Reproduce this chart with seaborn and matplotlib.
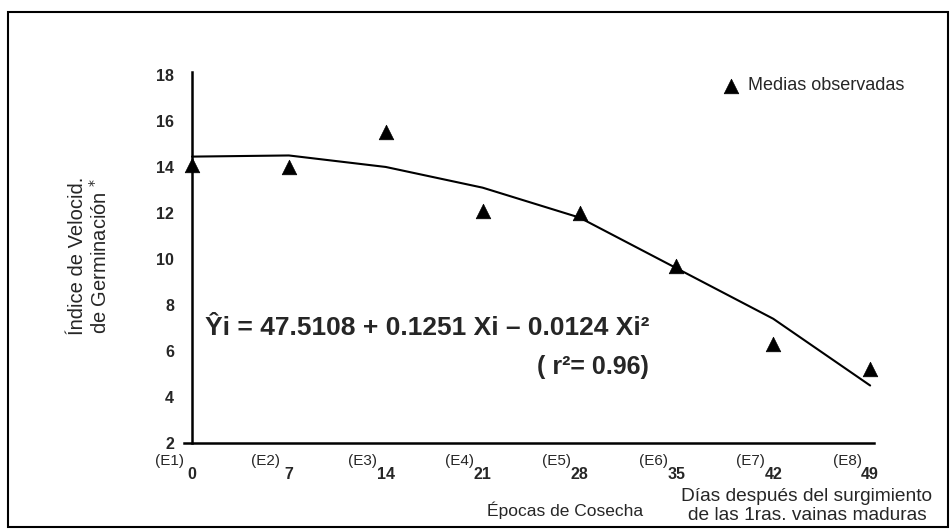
import matplotlib
matplotlib.use("Agg")
import matplotlib.pyplot as plt
from matplotlib.patches import Rectangle
import seaborn as sns
import pandas as pd

# observed means per harvest epoch
dias = [0, 7, 14, 21, 28, 35, 42, 49]
epocas = ["(E1)", "(E2)", "(E3)", "(E4)", "(E5)", "(E6)", "(E7)", "(E8)"]
medias_obs = [14.1, 14.0, 15.5, 12.1, 12.0, 9.7, 6.3, 5.2]
# fitted curve as drawn
ajuste = [14.45, 14.5, 14.0, 13.1, 11.8, 9.6, 7.4, 4.5]
yticks = [2, 4, 6, 8, 10, 12, 14, 16, 18]

df = pd.DataFrame({"dias": dias, "obs": medias_obs, "fit": ajuste})

sns.set_style("white")
plt.rcParams["font.family"] = ["Liberation Sans", "DejaVu Sans"]

W, H = 952, 529
fig = plt.figure(figsize=(W / 100, H / 100), dpi=100)
ax = fig.add_axes([183.7 / W, 86 / H, 690.6 / W, 371.5 / H])

sns.lineplot(data=df, x="dias", y="fit", ax=ax, color="black", linewidth=1.5)
sns.scatterplot(data=df, x="dias", y="obs", ax=ax, marker="^", s=110,
                color="black", edgecolor="black", linewidth=0.5,
                label="Medias observadas", zorder=5, clip_on=False)

ax.set_xlim(-0.6, 49.3)
ax.set_ylim(2, 18.15)
ax.spines["left"].set_position(("data", 0))
ax.spines["right"].set_visible(False)
ax.spines["top"].set_visible(False)
for s in ["left", "bottom"]:
    ax.spines[s].set_linewidth(1.8)
    ax.spines[s].set_color("black")

ax.set_yticks(yticks)
ax.set_yticklabels([str(v) for v in yticks], fontsize=11.5, fontweight="bold")
ax.tick_params(axis="y", length=0, pad=13)
ax.set_xticks(dias)
ax.set_xticklabels([str(d) for d in dias], fontsize=11.5, fontweight="bold")
ax.tick_params(axis="x", length=0, pad=17)
for lab in ax.get_xticklabels():
    lab.set_x(lab.get_position()[0])
for d, e in zip(dias, epocas):
    ax.annotate(e, xy=(d, 2), xycoords="data", xytext=(-16.5, -13),
                textcoords="offset points", ha="center", va="center",
                fontsize=11, annotation_clip=False)
ax.set_xlabel("")
ax.set_ylabel("")

leg = ax.legend(loc="center left", bbox_to_anchor=(723 / W, 1 - 86 / H),
                bbox_transform=fig.transFigure, frameon=False, borderaxespad=0,
                borderpad=0, handlelength=0.9, handletextpad=0.5, fontsize=13,
                scatterpoints=1)

# equation and r2
fig.text(205 / W, 1 - 328 / H, "Ŷi = 47.5108 + 0.1251 Xi – 0.0124 Xi²",
         fontsize=19, fontweight="bold", ha="left", va="center")
fig.text(649 / W, 1 - 367 / H, "( r²= 0.96)", fontsize=18,
         fontweight="bold", ha="right", va="center")

# axis titles
fig.text(89 / W, 1 - 256 / H, "Índice de Velocid.\nde Germinación $^{*}$",
         rotation=90, fontsize=14.5, ha="center", va="center",
         multialignment="center", linespacing=1.1)
fig.text(565 / W, 1 - 510 / H, "Épocas de Cosecha", fontsize=12.5,
         ha="center", va="center")
fig.text(807 / W, 1 - 506 / H,
         "Días después del surgimiento\nde las 1ras. vainas maduras",
         fontsize=13.8, ha="center", va="center", linespacing=1.1)

fig.patches.append(Rectangle((8 / W, 2 / H), 940 / W, 515 / H,
                             transform=fig.transFigure, fill=False,
                             edgecolor="black", linewidth=1.5))

fig.savefig("out.png", dpi=100)
